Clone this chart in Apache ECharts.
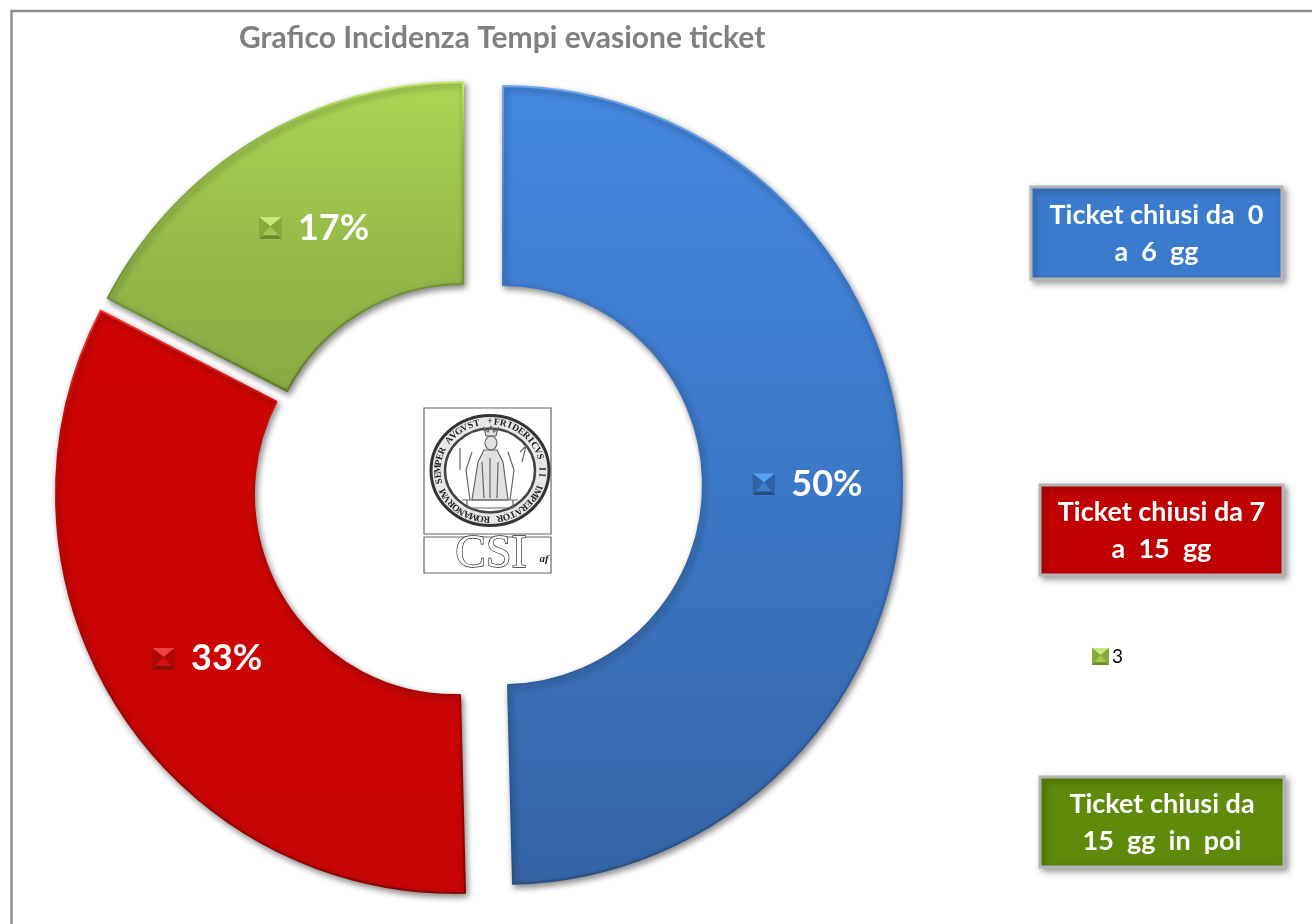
<!DOCTYPE html>
<html>
<head>
<meta charset="utf-8">
<style>html,body{margin:0;padding:0;background:#fff}#c{width:1312px;height:924px}</style>
<script src="https://cdn.jsdelivr.net/npm/echarts@6/dist/echarts.min.js"></script>
</head>
<body>
<div id="c"></div>
<script>
const titleText = 'Grafico Incidenza Tempi evasione ticket';
const categories = ['1', '2', '3'];
const values = [49.6, 33.0, 17.4];
const legendShown = ['3'];
const boxLabels = ['Ticket chiusi da  0\na  6  gg', 'Ticket chiusi da 7\na  15  gg', 'Ticket chiusi da\n15  gg  in  poi'];
const sliceCentres = [[503, 485], [455, 494], [463, 482]];
const sliceRadii = [[200, 399], [201, 399], [198, 400]];
const labelShift = [[2, 3], [9, 4], [8, 4]];
const sliceFill = [['#4488e0', '#3c78c8', '#3463a4'], ['#d00404', '#cc0404', '#c80404'], ['#abd654', '#98bc4a', '#88aa42']];
const sliceEdge = [['#6ea6ee', '#3c78c8', '#2a5084'], ['#f03030', '#cc0404', '#8a0303'], ['#c4e86e', '#90b446', '#5f7a2c']];
const markerCols = [['#5aa0f0', '#3d7cc8', '#2f62a4', '#234c80'], ['#f04040', '#d81010', '#b00808', '#801010'], ['#c8e878', '#a0c850', '#88a840', '#6a8a30']];
const boxes = [[1031, 187, 251, 92, '#3a7bce'], [1040, 485, 243, 90, '#c00000'], [1040, 777, 244, 90, '#5f8a0a']];

function marker(c) {
  const svg = "<svg xmlns='http://www.w3.org/2000/svg' width='24' height='24'>" +
    "<rect width='24' height='24' fill='" + c[1] + "'/>" +
    "<polygon points='0,0 24,0 12,10' fill='" + c[0] + "'/>" +
    "<polygon points='0,0 0,24 12,10' fill='" + c[2] + "'/>" +
    "<polygon points='24,0 24,24 12,10' fill='" + c[2] + "'/>" +
    "<polygon points='0,24 24,24 20,20 4,20' fill='" + c[3] + "'/></svg>";
  return 'data:image/svg+xml,' + encodeURIComponent(svg);
}
const grad = (a, b, c, mid) => new echarts.graphic.LinearGradient(0, 0, 0, 1,
  [{offset: 0, color: a}, {offset: mid, color: b}, {offset: 1, color: c}]);

let cum = 0;
const series = values.map((v, i) => {
  const start = cum * 3.6; cum += v;
  return {
    type: 'pie', name: categories[i], center: sliceCentres[i], radius: sliceRadii[i],
    startAngle: 90 - start, clockwise: true, percentPrecision: 0, animation: false,
    labelLine: {show: false}, avoidLabelOverlap: false, emphasis: {disabled: true},
    data: [
      {name: categories[i], value: v,
       itemStyle: {color: grad(...sliceFill[i], .5), borderColor: grad(...sliceEdge[i], .2), borderWidth: 2,
         shadowBlur: 6, shadowOffsetX: 2, shadowOffsetY: 3, shadowColor: 'rgba(0,0,0,0.45)'},
       label: {show: true, position: 'inside', offset: labelShift[i], formatter: '{m|}{t|{d}%}',
         rich: {m: {width: 23, height: 22, backgroundColor: {image: marker(markerCols[i])}},
                t: {color: '#fff', fontFamily: 'Lato', fontWeight: 'bold', fontSize: 36, padding: [0, 0, 0, 16]}}}},
      {name: '', value: 100 - v, itemStyle: {color: 'transparent', borderWidth: 0}, label: {show: false}, tooltip: {show: false}}
    ]
  };
});

/* frame */
const gfx = [{type: 'polyline', z: 1, shape: {points: [[11.5, 924], [11.5, 11], [1312, 11]]}, style: {fill: null, stroke: '#8e8e8e', lineWidth: 2.5}}];

/* text boxes */
boxes.forEach((b, i) => {
  gfx.push({type: 'rect', z: 10, shape: {x: b[0], y: b[1], width: b[2], height: b[3]},
    style: {fill: b[4], stroke: '#b4b4b4', lineWidth: 3, shadowBlur: 6, shadowOffsetX: 3, shadowOffsetY: 3, shadowColor: 'rgba(0,0,0,0.35)'}});
  gfx.push({type: 'text', z: 11, x: b[0] + b[2] / 2, y: b[1] + b[3] / 2 + 1,
    style: {text: boxLabels[i], fill: '#fff', font: 'bold 27px Lato', lineHeight: 37, align: 'center', verticalAlign: 'middle'}});
});

/* logo */
const sx = 490, sy = 470.5;
gfx.push({type: 'rect', z: 5, shape: {x: 424, y: 408, width: 127, height: 126}, style: {fill: '#fff', stroke: '#666', lineWidth: 1.2}});
gfx.push({type: 'rect', z: 5, shape: {x: 424, y: 537, width: 127, height: 36}, style: {fill: '#fff', stroke: '#666', lineWidth: 1.2}});
gfx.push({type: 'ellipse', z: 6, shape: {cx: sx, cy: sy, rx: 59, ry: 55}, style: {fill: '#e8e8e8', stroke: '#333', lineWidth: 3}});
gfx.push({type: 'ellipse', z: 6, shape: {cx: sx, cy: sy, rx: 45, ry: 42}, style: {fill: '#fff', stroke: '#444', lineWidth: 2.5}});
const seal = '+FRIDERICVS II IMPERATOR ROMANORVM SEMPER AVGVST ';
[...seal].forEach((ch, k) => {
  const a = (k / seal.length) * Math.PI * 2;
  gfx.push({type: 'text', z: 7, x: sx + 52 * Math.sin(a), y: sy - 48.5 * Math.cos(a), rotation: -a,
    style: {text: ch, fill: '#222', font: 'bold 9.5px "Liberation Serif"', align: 'center', verticalAlign: 'middle'}});
});
const ink = {fill: 'rgba(120,120,120,0.22)', stroke: '#666', lineWidth: 1.2};
const line = {fill: 'none', stroke: '#666', lineWidth: 1.2};
[
  [[486, 436], [484, 428], [488, 432], [491, 426], [494, 432], [498, 428], [496, 436]],
  [[484, 450], [478, 462], [472, 500], [508, 500], [503, 462], [497, 450]]
].forEach(p => gfx.push({type: 'polygon', z: 7, shape: {points: p}, style: ink}));
[
  [[470, 500], [466, 470], [472, 452]],
  [[510, 500], [514, 470], [508, 452]],
  [[462, 500], [518, 500]],
  [[467, 500], [467, 508], [513, 508], [513, 500]],
  [[482, 462], [484, 498]], [[498, 462], [497, 498]], [[490, 458], [490, 498]],
  [[460, 448], [460, 470]], [[520, 452], [526, 446], [522, 462]]
].forEach(p => gfx.push({type: 'polyline', z: 7, shape: {points: p}, style: line}));
gfx.push({type: 'ellipse', z: 7, shape: {cx: 491, cy: 443, rx: 6, ry: 7}, style: ink});
gfx.push({type: 'text', z: 7, x: 491, y: 555, style: {text: 'CSI', fill: '#fff', stroke: '#222', lineWidth: 1.3, font: '46px "Liberation Serif"', align: 'center', verticalAlign: 'middle'}});
gfx.push({type: 'text', z: 7, x: 544, y: 559, style: {text: 'af', fill: '#222', font: 'italic bold 11px "Liberation Serif"', align: 'center', verticalAlign: 'middle'}});

const chart = echarts.init(document.getElementById('c'), null, {renderer: 'canvas'});
chart.setOption({
  backgroundColor: '#fff', animation: false,
  title: {text: titleText, left: 234, top: 18, textStyle: {color: '#808080', fontFamily: 'Lato', fontWeight: 'bold', fontSize: 30}},
  legend: {data: legendShown, left: 1087, top: 642, itemWidth: 17, itemHeight: 17, itemGap: 8, selectedMode: false,
    icon: 'image://' + marker(markerCols[2]), textStyle: {color: '#000', fontFamily: 'Lato', fontSize: 19, padding: [0, 0, 0, -2]}},
  series: series,
  graphic: gfx
});
</script>
</body>
</html>
